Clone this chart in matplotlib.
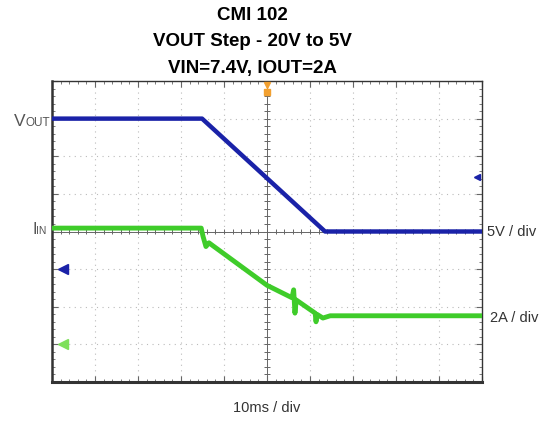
import numpy as np
import matplotlib.pyplot as plt

# Datos (unidades: divisiones de la pantalla)
vout_x = [0.0, 3.49, 6.35, 10.0]
vout_y = [3.0, 3.0, 0.0, 0.0]

iin_x = [0.0, 3.47, 3.51, 3.58, 3.65, 3.72, 5.0, 5.58, 5.62, 5.65, 5.68, 6.12, 6.14, 6.16, 6.3, 6.47, 10.0]
iin_y = [0.09, 0.09, -0.12, -0.40, -0.30, -0.36, -1.43, -1.76, -1.55, -2.17, -1.82, -2.17, -2.40, -2.20, -2.30, -2.24, -2.24]

vout_ref = -1.0   # nivel de tierra del canal azul
iin_ref = -3.0    # nivel de tierra del canal verde
trig_x = 5.0
trig_lvl = 1.45

azul = '#1a22a8'
verde = '#3fcc2a'
gris = '#555555'

plt.rcParams['font.family'] = ['Liberation Sans', 'DejaVu Sans']

fig = plt.figure(figsize=(5.46, 4.21), dpi=100)
ax = fig.add_axes([52/546, 39/421, 430/546, 301/421])
ax.set_xlim(0, 10)
ax.set_ylim(-4, 4)

# Reticula punteada
for gx in range(1, 10):
    ax.axvline(gx, color='#bbbbbb', lw=0.8, ls=(0, (1, 4)), zorder=1)
for gy in range(-3, 4):
    ax.axhline(gy, color='#bbbbbb', lw=0.8, ls=(0, (1, 4)), zorder=1)

# Ejes centrales con marcas
ax.axhline(0, color='#666666', lw=0.7, zorder=1)
ax.axvline(5, color='#666666', lw=0.7, zorder=1)
mx = np.arange(0, 10.01, 0.2)
my = np.arange(-4, 4.01, 0.2)
ax.vlines(mx, -0.07, 0.07, color='#666666', lw=0.7, zorder=1)
ax.hlines(my, 4.93, 5.07, color='#666666', lw=0.7, zorder=1)

ax.set_xticks(range(0, 11))
ax.set_yticks(range(-4, 5))
ax.set_xticks(mx, minor=True)
ax.set_yticks(my, minor=True)
ax.tick_params(which='both', direction='in', top=True, right=True,
               labelbottom=False, labelleft=False, color='#666666')
ax.tick_params(which='major', length=4)
ax.tick_params(which='minor', length=2)
for s in ax.spines.values():
    s.set_color('#333333')
    s.set_linewidth(1.0)
ax.spines['left'].set_linewidth(1.8)
ax.spines['bottom'].set_linewidth(2.2)

# Trazas
ax.plot(vout_x, vout_y, color=azul, lw=3.2, solid_joinstyle='round', zorder=3)
ax.plot(iin_x, iin_y, color=verde, lw=3.5, solid_joinstyle='round', zorder=3)

# Marcadores de tierra y disparo
ax.plot([0.25], [vout_ref], marker='<', color=azul, ms=7, clip_on=False, zorder=4)
ax.plot([0.25], [iin_ref], marker='<', color='#7ee05a', ms=7, clip_on=False, zorder=4)
ax.plot([9.88], [trig_lvl], marker='<', color=azul, ms=4, clip_on=False, zorder=4)
ax.plot([trig_x], [3.72], marker='s', color='#f2a030', ms=5, zorder=4)
ax.plot([trig_x], [3.9], marker='v', color='#f2a030', ms=5, zorder=4)

# Titulo
tx = 252/546
fig.text(tx, 1 - 15/421, 'CMI 102', ha='center', va='center', fontsize=13.5, fontweight='bold')
fig.text(tx, 1 - 42/421, 'VOUT Step - 20V to 5V', ha='center', va='center', fontsize=13.5, fontweight='bold')
fig.text(tx, 1 - 68/421, 'VIN=7.4V, IOUT=2A', ha='center', va='center', fontsize=13.5, fontweight='bold')

# Etiquetas de canal
fig.text(14/546, 1 - 126/421, 'V', ha='left', va='baseline', fontsize=12.5, color=gris)
fig.text(25/546, 1 - 126/421, 'OUT', ha='left', va='baseline', fontsize=8.5, color=gris)
fig.text(32/546, 1 - 234/421, 'I', ha='left', va='baseline', fontsize=11.5, color=gris)
fig.text(36/546, 1 - 234/421, 'IN', ha='left', va='baseline', fontsize=7.5, color=gris)

fig.text(487/546, 1 - 232/421, '5V / div', ha='left', va='center', fontsize=10.5, color='#333333')
fig.text(490/546, 1 - 318/421, '2A / div', ha='left', va='center', fontsize=10.5, color='#333333')
fig.text(267/546, 1 - 408/421, '10ms / div', ha='center', va='center', fontsize=10.5, color='#333333')

fig.savefig('out.png', dpi=100)
